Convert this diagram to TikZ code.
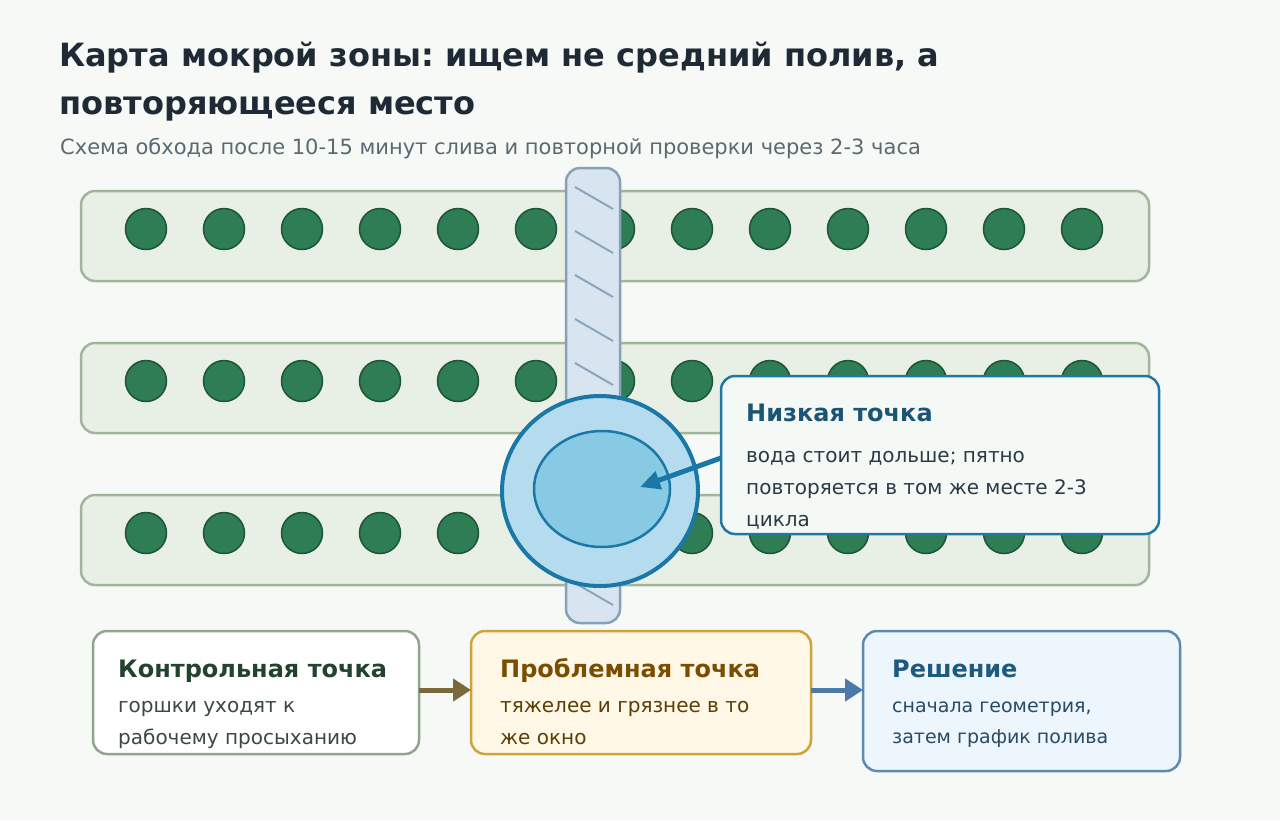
\documentclass[tikz,border=0pt]{standalone}
\usepackage{fontspec}
\setmainfont{DejaVu Sans}
\frenchspacing
\usetikzlibrary{arrows.meta,calc,shapes.geometric}
\definecolor{bg}{HTML}{F6F9F5}
\definecolor{rowfill}{HTML}{E8F0E6}
\definecolor{rowline}{HTML}{A3B49C}
\definecolor{dotfill}{HTML}{2F7D55}
\definecolor{dotline}{HTML}{1E5438}
\definecolor{barfill}{HTML}{D8E4EF}
\definecolor{barline}{HTML}{86A1B8}
\definecolor{hatch}{HTML}{8AA6BF}
\definecolor{wetout}{HTML}{B5DCEE}
\definecolor{wetin}{HTML}{88C9E3}
\definecolor{wetline}{HTML}{1A77A6}
\definecolor{titlec}{HTML}{1E2A35}
\definecolor{subc}{HTML}{5A6A72}
\definecolor{calfill}{HTML}{F5F9F6}
\definecolor{calline}{HTML}{1F77A3}
\definecolor{calhead}{HTML}{1C5573}
\definecolor{caltext}{HTML}{2A3A45}
\definecolor{aline}{HTML}{8FA58C}
\definecolor{ahead}{HTML}{22432E}
\definecolor{atext}{HTML}{3A4A40}
\definecolor{bfill}{HTML}{FFF8E6}
\definecolor{bline}{HTML}{D0A23C}
\definecolor{bhead}{HTML}{7A4D00}
\definecolor{btext}{HTML}{5C3D05}
\definecolor{cfill}{HTML}{EDF5FD}
\definecolor{cline}{HTML}{5F8AB0}
\definecolor{chead}{HTML}{1E5A80}
\definecolor{ctext}{HTML}{284B66}
\definecolor{arrbrown}{HTML}{7A6A3A}
\definecolor{arrblue}{HTML}{4A7AA8}
\tikzset{
  rowbox/.style={draw=rowline, fill=rowfill, line width=2.5pt, rounded corners=14pt, minimum width=1068pt, minimum height=90pt, inner sep=0pt, outer sep=0pt},
  dot/.style={circle, draw=dotline, fill=dotfill, line width=1.5pt, minimum size=41pt, inner sep=0pt},
  card/.style={line width=2.5pt, rounded corners=14pt, inner sep=0pt, outer sep=0pt},
  headtxt/.style={anchor=base west, inner sep=0pt, font=\bfseries\fontsize{24}{28}\selectfont},
  bodytxt/.style={anchor=base west, inner sep=0pt, font=\fontsize{20}{24}\selectfont},
  flowarr/.style={line width=5pt, -{Triangle[length=18pt,width=22pt]}},
}
\begin{document}
\begin{tikzpicture}[x=1pt,y=-1pt]
\useasboundingbox (0,0) rectangle (1280,820);
\fill[bg] (0,0) rectangle (1280,820);

% titles
\node[anchor=base west, inner sep=0pt, text=titlec, font=\bfseries\fontsize{32}{38}\selectfont] (t1) at (59,66) {Карта мокрой зоны: ищем не средний полив, а};
\node[anchor=base west, inner sep=0pt, text=titlec, font=\bfseries\fontsize{32}{38}\selectfont] (t2) at (59,114) {повторяющееся место};
\node[anchor=base west, inner sep=0pt, text=subc, font=\fontsize{21}{25}\selectfont] (sub) at (60,154.5) {Схема обхода после 10-15 минут слива и повторной проверки через 2-3 часа};

% rows
\foreach \r/\y in {1/236,2/388,3/540}{
  \node[rowbox] (row\r) at (615,\y) {};
}
\foreach \r/\y in {1/229,2/381,3/533}{
  \foreach \i in {0,...,12}{
    \node[dot] (d\r-\i) at (146+78*\i,\y) {};
  }
}

% bar
\node[draw=barline, fill=barfill, line width=2.5pt, rounded corners=14pt, minimum width=54pt, minimum height=455pt, inner sep=0pt, outer sep=0pt] (bar) at (593,395.5) {};
\foreach \k in {0,...,9}{
  \draw[hatch, line width=2pt] (575,187+44*\k) -- (613,209+44*\k);
}

% wet zone
\node[ellipse, draw=wetline, fill=wetout, line width=4pt, minimum width=196pt, minimum height=190pt, inner sep=0pt] (outer) at (600,491) {};
\node[ellipse, draw=wetline, fill=wetin, line width=2.5pt, minimum width=136pt, minimum height=116pt, inner sep=0pt] (inner) at (602,489) {};
\coordinate (low) at (640,487);

% callout
\node[card, draw=calline, fill=calfill, minimum width=438pt, minimum height=158pt] (callout) at (940,455) {};
\draw[wetline, line width=5pt, -{Triangle[length=20pt,width=18pt]}] ($(callout.west)+(0,3)$) -- (low);
\node[headtxt, text=calhead] (ch) at (746,421) {Низкая точка};
\node[bodytxt, text=caltext] (c1) at (746,462) {вода стоит дольше; пятно};
\node[bodytxt, text=caltext] (c2) at (746,494) {повторяется в том же месте 2-3};
\node[bodytxt, text=caltext] (c3) at (746,526) {цикла};

% bottom cards
\node[card, draw=aline, fill=white, minimum width=326pt, minimum height=123pt] (ca) at (256,692.5) {};
\node[card, draw=bline, fill=bfill, minimum width=340pt, minimum height=123pt] (cb) at (641,692.5) {};
\node[card, draw=cline, fill=cfill, minimum width=317pt, minimum height=140pt] (cc) at (1021.5,701) {};

\node[headtxt, text=ahead] (ah) at (118,677) {Контрольная точка};
\node[bodytxt, text=atext] (a1) at (118,712) {горшки уходят к};
\node[bodytxt, text=atext] (a2) at (118,744) {рабочему просыханию};

\node[headtxt, text=bhead] (bh) at (500,677) {Проблемная точка};
\node[bodytxt, text=btext] (b1) at (500,712) {тяжелее и грязнее в то};
\node[bodytxt, text=btext] (b2) at (500,744) {же окно};

\node[headtxt, text=chead] (chh) at (892,677) {Решение};
\node[bodytxt, text=ctext, font=\fontsize{19}{22}\selectfont] (cc1) at (892,712) {сначала геометрия,};
\node[bodytxt, text=ctext, font=\fontsize{19}{22}\selectfont] (cc2) at (892,743) {затем график полива};

\coordinate (ae) at (ca.east |- 0,690);
\coordinate (bw) at (cb.west |- 0,690);
\coordinate (be) at (cb.east |- 0,690);
\coordinate (cw) at (cc.west |- 0,690);
\draw[flowarr, arrbrown] (ae) -- (bw);
\draw[flowarr, arrblue] (be) -- (cw);
\end{tikzpicture}
\end{document}
